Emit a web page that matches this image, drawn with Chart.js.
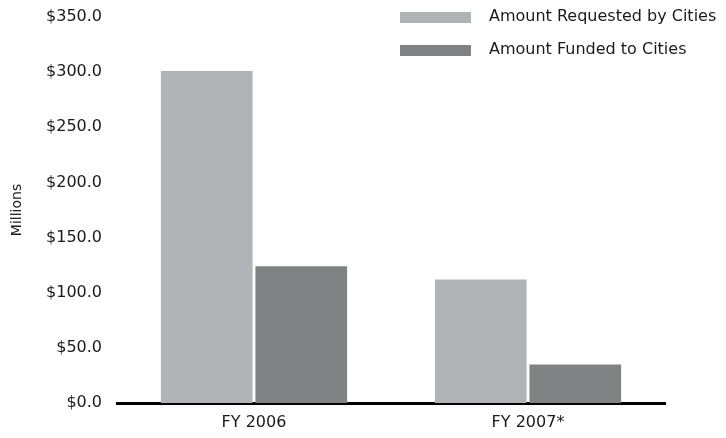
<!DOCTYPE html>
<html>
<head>
<meta charset="utf-8">
<script src="https://cdn.jsdelivr.net/npm/chart.js@4/dist/chart.umd.min.js"></script>
<style>
  html, body { margin: 0; padding: 0; background: #fff; }
  #wrap { width: 726px; height: 438px; position: relative; }
</style>
</head>
<body>
<div id="wrap"><canvas id="barChart" width="726" height="438"></canvas></div>
<script>
// data (millions of dollars)
var years = ["FY 2006", "FY 2007*"];
var requested = [301, 112];
var funded = [124, 35];
var seriesNames = ["Amount Requested by Cities", "Amount Funded to Cities"];
var seriesColors = ["#b1b4b6", "#818284"];

var fontName = "'DejaVu Sans', sans-serif";

// legend drawn at the top right, outside the chart layout
var topLegend = {
    id: "topLegend",
    afterDraw: function(chart) {
        var c = chart.ctx;
        c.save();
        c.font = "16px " + fontName;
        c.textBaseline = "middle";
        chart.data.datasets.forEach(function(ds, i) {
            var y = 17 + i * 33;
            c.fillStyle = ds.backgroundColor;
            c.fillRect(400, y - 5, 71, 11);
            c.fillStyle = "#1a1a1a";
            c.fillText(ds.label, 489, y);
        });
        c.restore();
    }
};

var ctx = document.getElementById("barChart").getContext("2d");
var chart = new Chart(ctx, {
    type: "bar",
    data: {
        labels: years,
        datasets: [
            { label: seriesNames[0], data: requested, backgroundColor: seriesColors[0] },
            { label: seriesNames[1], data: funded, backgroundColor: seriesColors[1] }
        ]
    },
    options: {
        responsive: false,
        animation: false,
        layout: { padding: { top: 17, right: 61, bottom: 0, left: 0 } },
        datasets: { bar: { barPercentage: 0.97, categoryPercentage: 0.69 } },
        plugins: {
            legend: { display: false },
            tooltip: { enabled: false }
        },
        scales: {
            x: {
                grid: { display: false, drawTicks: false },
                border: { display: true, color: "#000", width: 3 },
                ticks: { color: "#1a1a1a", font: { family: fontName, size: 16 }, padding: 10 },
                afterFit: function(scale) { scale.height = 35; }
            },
            y: {
                min: 0,
                max: 350,
                grid: { display: false, drawTicks: false },
                border: { display: false },
                ticks: {
                    stepSize: 50,
                    color: "#1a1a1a",
                    padding: 15,
                    font: { family: fontName, size: 16 },
                    callback: function(v) { return "$" + v.toFixed(1); }
                },
                title: {
                    display: true,
                    text: "Millions",
                    color: "#1a1a1a",
                    font: { family: fontName, size: 14 },
                    padding: { top: 9, bottom: 0 }
                },
                afterFit: function(scale) {
                    scale.width = 117;
                    // no extra room for the half-height of the top tick label
                    scale.paddingTop = 0;
                    scale.paddingBottom = 0;
                }
            }
        }
    },
    plugins: [topLegend]
});
</script>
</body>
</html>
